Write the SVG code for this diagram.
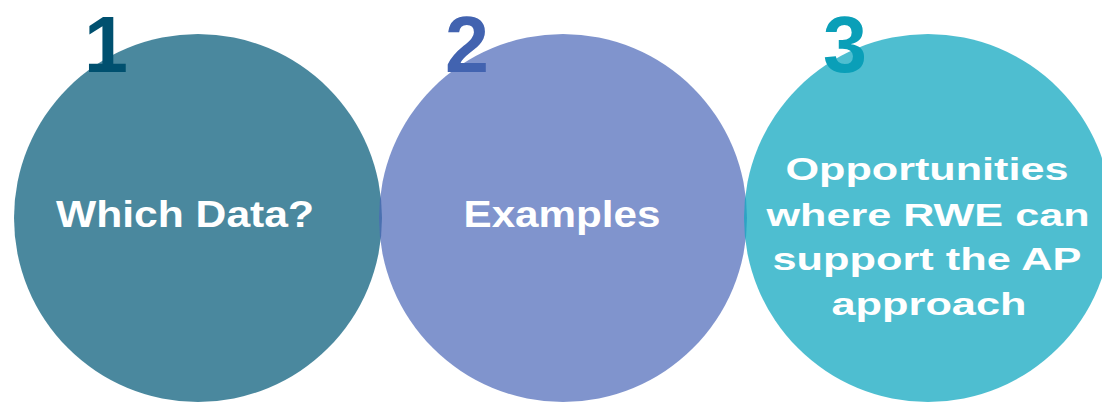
<svg xmlns="http://www.w3.org/2000/svg" width="1102" height="404" viewBox="0 0 1102 404">
  <style>
    .num { font-family: "Liberation Sans", Arial, sans-serif; font-weight: bold; font-size: 79px; text-anchor: middle; }
    .lbl { font-family: "Liberation Sans", Arial, sans-serif; font-weight: bold; fill: #ffffff; text-anchor: middle; }
    .big { font-size: 36px; }
    .small { font-size: 32px; }
  </style>
  <rect width="1102" height="404" fill="#ffffff"/>
  <g id="node1">
    <circle cx="198" cy="218" r="184" fill="#0b5f7c" fill-opacity="0.74"/>
  </g>
  <g id="node2">
    <circle cx="563" cy="218" r="184" fill="#4a66b8" fill-opacity="0.7"/>
  </g>
  <g id="node3">
    <circle cx="928" cy="218" r="184" fill="#13a8c0" fill-opacity="0.75"/>
  </g>
  <g id="labels">
    <text class="num" x="106" y="72" fill="#00506f">1</text>
    <text class="num" x="467" y="72" fill="#4263b0">2</text>
    <text class="num" x="845" y="72" fill="#0a9fb8">3</text>
    <text class="lbl big" x="185" y="227" textLength="258" lengthAdjust="spacingAndGlyphs">Which Data?</text>
    <text class="lbl big" x="562" y="227" textLength="197" lengthAdjust="spacingAndGlyphs">Examples</text>
    <text class="lbl small" x="927" y="180" textLength="283" lengthAdjust="spacingAndGlyphs">Opportunities</text>
    <text class="lbl small" x="928" y="226" textLength="323" lengthAdjust="spacingAndGlyphs">where RWE can</text>
    <text class="lbl small" x="927" y="270" textLength="309" lengthAdjust="spacingAndGlyphs">support the AP</text>
    <text class="lbl small" x="929" y="315" textLength="195" lengthAdjust="spacingAndGlyphs">approach</text>
  </g>
  <g id="connectors"></g>
</svg>
